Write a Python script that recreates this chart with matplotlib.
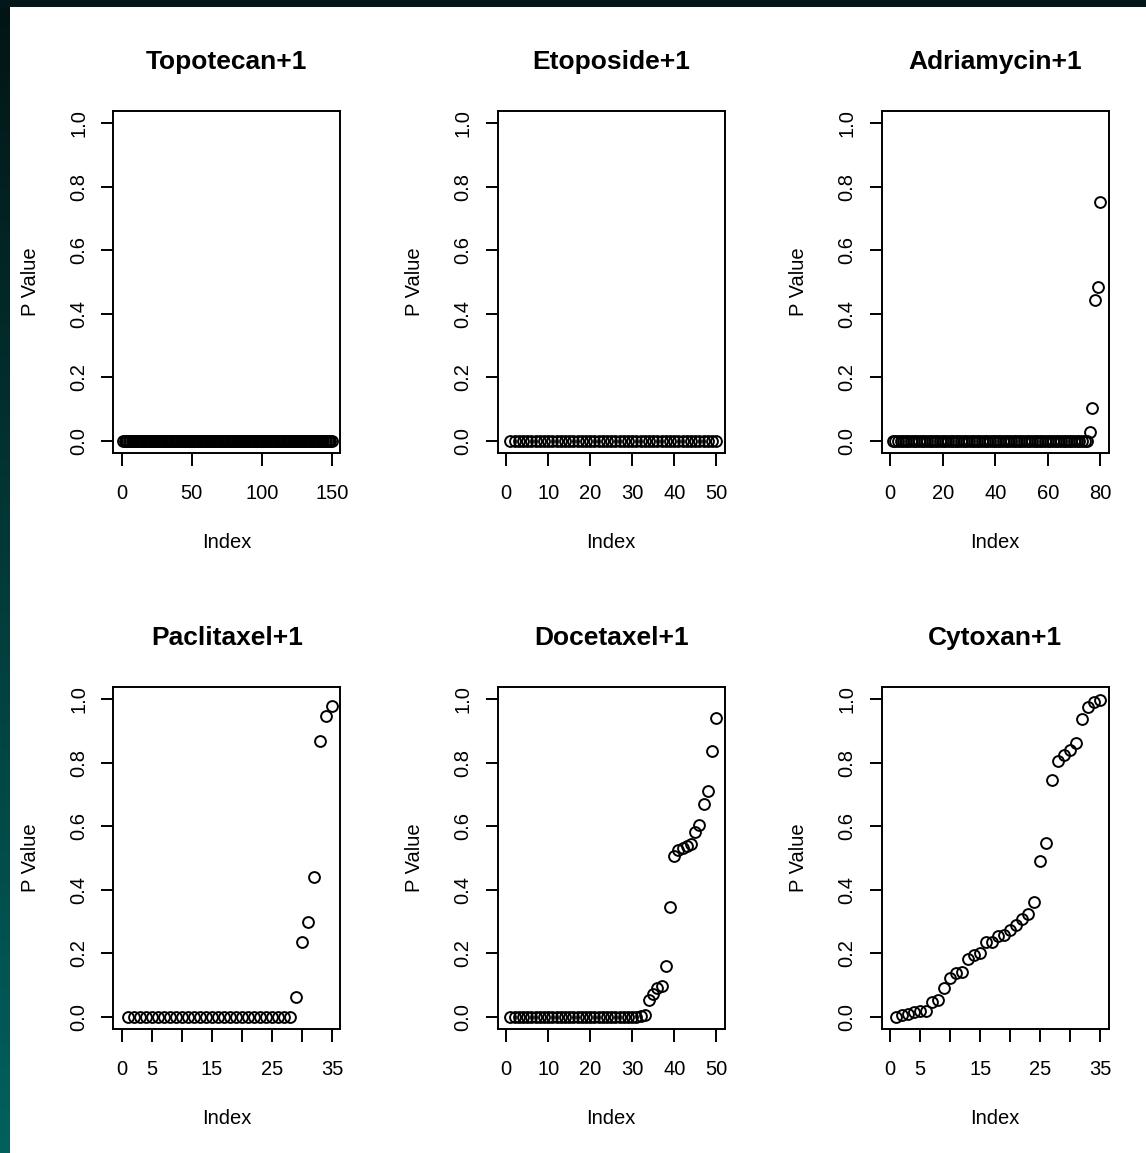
import numpy as np
import matplotlib
matplotlib.use("Agg")
import matplotlib.pyplot as plt

plt.rcParams['font.family'] = ['Liberation Sans', 'DejaVu Sans']

# ---------------- data ----------------
titles = ["Topotecan+1", "Etoposide+1", "Adriamycin+1",
          "Paclitaxel+1", "Docetaxel+1", "Cytoxan+1"]

topotecan = [0.0] * 150
etoposide = [0.0] * 50
adriamycin = [0.0] * 75 + [0.027, 0.104, 0.443, 0.485, 0.752]
paclitaxel = [0.0] * 28 + [0.063, 0.234, 0.300, 0.440, 0.868, 0.949, 0.979]
docetaxel = [0.0] * 31 + [0.002, 0.005, 0.053, 0.072, 0.089, 0.097, 0.161,
                          0.345, 0.508, 0.526, 0.532, 0.537, 0.544, 0.582,
                          0.603, 0.671, 0.711, 0.837, 0.941]
cytoxan = [0.000, 0.005, 0.007, 0.014, 0.019, 0.019, 0.045, 0.053, 0.092,
           0.121, 0.137, 0.140, 0.182, 0.195, 0.200, 0.235, 0.237, 0.255,
           0.259, 0.274, 0.289, 0.307, 0.323, 0.363, 0.492, 0.549, 0.747,
           0.805, 0.824, 0.842, 0.861, 0.939, 0.976, 0.992, 0.998]

series = [topotecan, etoposide, adriamycin, paclitaxel, docetaxel, cytoxan]

xticks = [[0, 50, 100, 150],
          [0, 10, 20, 30, 40, 50],
          [0, 20, 40, 60, 80],
          [0, 5, 10, 15, 20, 25, 30, 35],
          [0, 10, 20, 30, 40, 50],
          [0, 5, 10, 15, 20, 25, 30, 35]]
xticklabels = [["0", "50", "100", "150"],
               ["0", "10", "20", "30", "40", "50"],
               ["0", "20", "40", "60", "80"],
               ["0", "5", "", "15", "", "25", "", "35"],
               ["0", "10", "20", "30", "40", "50"],
               ["0", "5", "", "15", "", "25", "", "35"]]
yticks = [0.0, 0.2, 0.4, 0.6, 0.8, 1.0]
yticklabels = ["0.0", "0.2", "0.4", "0.6", "0.8", "1.0"]

# ---------------- layout ----------------
W, H = 1146, 1153
fig = plt.figure(figsize=(W / 100, H / 100), dpi=100)
fig.patch.set_facecolor("white")

# dark frame strips (left gradient and top)
ax_left = fig.add_axes([0, 0, 10 / W, 1])
grad = np.linspace(0, 1, 256).reshape(-1, 1)
top_c = np.array([0.01, 0.08, 0.08])
bot_c = np.array([0.0, 0.38, 0.37])
img = top_c[None, None, :] * (1 - grad[:, :, None]) + bot_c[None, None, :] * grad[:, :, None]
ax_left.imshow(img, aspect="auto", extent=[0, 1, 1, 0])
ax_left.set_axis_off()
ax_top = fig.add_axes([0, 1 - 7 / H, 1, 7 / H])
ax_top.set_facecolor("#031618")
ax_top.set_xticks([]); ax_top.set_yticks([])
for s in ax_top.spines.values():
    s.set_visible(False)

col_left = [113.3, 497.7, 881.7]
row_top = [110.7, 686.7]
bw, bh = 227.0, 342.7

title_size = 19
label_size = 14.5

for i, (vals, title) in enumerate(zip(series, titles)):
    r, c = divmod(i, 3)
    x0, y0 = col_left[c], row_top[r]
    ax = fig.add_axes([x0 / W, 1 - (y0 + bh) / H, bw / W, bh / H])
    n = len(vals)
    idx = np.arange(1, n + 1)
    ax.plot(idx, vals, linestyle="none", marker="o", markersize=7.8,
            markerfacecolor="none", markeredgecolor="black", markeredgewidth=1.4)
    ax.set_xlim(-0.04 * n, n * 1.04)
    ax.set_ylim(-0.04, 1.04)
    ax.set_xticks(xticks[i])
    ax.set_xticklabels(xticklabels[i], fontsize=label_size)
    ax.set_yticks(yticks)
    ax.set_yticklabels(yticklabels, fontsize=label_size, rotation=90, va="center")
    ax.tick_params(axis="both", direction="out", length=9, width=1.4, color="black")
    ax.tick_params(axis="x", pad=13)
    ax.tick_params(axis="y", pad=9)
    for s in ax.spines.values():
        s.set_linewidth(1.4)
    cx = x0 + bw / 2
    fig.text(cx / W, 1 - (69.3 + 576 * r) / H, title, fontsize=title_size,
             fontweight="bold", ha="center", va="baseline")
    fig.text(cx / W, 1 - (548.3 + 576 * r) / H, "Index", fontsize=label_size,
             ha="center", va="baseline")
    fig.text((x0 - 83) / W, 1 - (y0 + bh / 2) / H, "P Value", fontsize=label_size,
             ha="center", va="center", rotation=90)

fig.savefig("out.png", dpi=100, facecolor=fig.get_facecolor())
